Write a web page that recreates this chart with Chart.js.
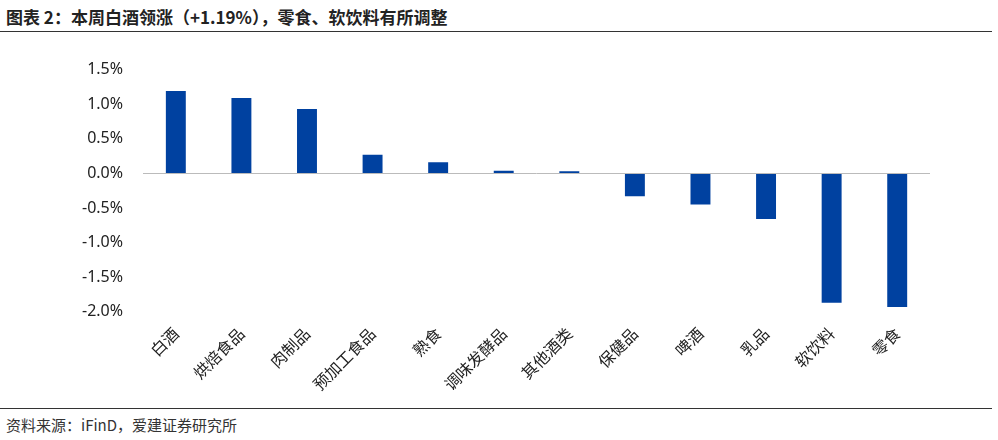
<!DOCTYPE html>
<html><head><meta charset="utf-8">
<script src="https://cdn.jsdelivr.net/npm/chart.js@4"></script>
<style>
body{margin:0;width:998px;height:440px;background:#fff;font-family:"Noto Sans CJK SC","Noto Sans",sans-serif;position:relative;overflow:hidden}
#title{position:absolute;left:6px;top:4px;font-size:17px;font-weight:bold;color:#222}
#top{position:absolute;left:0;top:31px;width:992px;border-top:1.5px solid #333}
#bot{position:absolute;left:0;top:408px;width:992px;border-top:1.5px solid #333}
#src{position:absolute;left:6px;top:414px;font-size:15px;color:#333}
#wrap{position:absolute;left:62px;top:40px;width:868px;height:366px}
</style></head><body>
<div id="title">图表 2：本周白酒领涨（+1.19%），零食、软饮料有所调整</div>
<div id="top"></div>
<div id="wrap"><canvas id="c"></canvas></div>
<div id="bot"></div>
<div id="src">资料来源：iFinD，爱建证券研究所</div>
<script>
const categories = ['白酒','烘焙食品','肉制品','预加工食品','熟食','调味发酵品','其他酒类','保健品','啤酒','乳品','软饮料','零食'];
const values = [1.19, 1.09, 0.93, 0.27, 0.16, 0.04, 0.03, -0.33, -0.45, -0.66, -1.87, -1.93];

new Chart(document.getElementById('c').getContext('2d'), {
    type: 'bar',
    data: {
        labels: categories,
        datasets: [{
            data: values,
            backgroundColor: '#0041a0',
            categoryPercentage: 0.8,
            barPercentage: 0.38
        }]
    },
    options: {
        responsive: true,
        maintainAspectRatio: false,
        animation: false,
        layout: { padding: { top: 8, right: 0 } },
        plugins: { legend: { display: false }, tooltip: { enabled: false } },
        scales: {
            x: {
                grid: { display: false, drawTicks: false },
                border: { display: false },
                ticks: { maxRotation: 45, minRotation: 45, color: '#222', font: { size: 16, family: 'Noto Sans CJK SC' }, padding: 12 }
            },
            y: {
                min: -2.0, max: 1.5,
                grid: {
                    drawTicks: false,
                    lineWidth: ctx => ctx.tick.value === 0 ? 1 : 0,
                    color: '#bbb'
                },
                border: { display: false },
                ticks: {
                    stepSize: 0.5, color: '#222', padding: 20,
                    font: { size: 16, family: 'Noto Sans' },
                    callback: v => v.toFixed(1) + '%'
                }
            }
        }
    }
});
</script>
</body></html>
